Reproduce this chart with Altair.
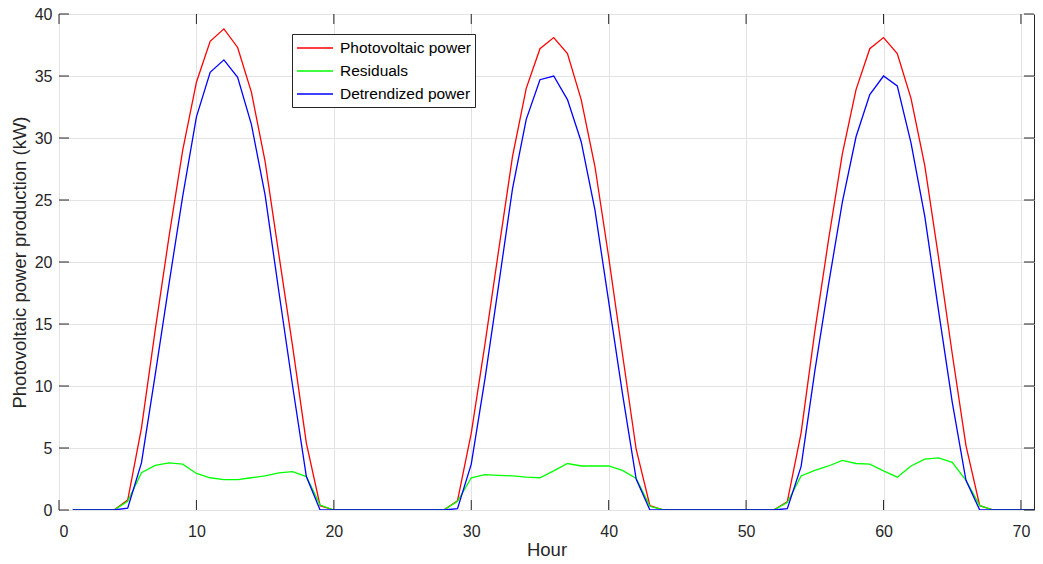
import altair as alt
import pandas as pd

hours = list(range(1, 73))

pv_power = [
    0, 0, 0, 0, 0.8, 6.6, 14.5, 22.0, 29.0, 34.5, 37.8, 38.8, 37.3, 33.7, 28.1, 20.6, 13.2, 5.4, 0.35, 0,
    0, 0, 0, 0, 0, 0, 0, 0, 0.75, 6.2, 13.4, 21.0, 28.5, 34.0, 37.2, 38.1, 36.8, 33.1, 27.7, 20.4,
    12.6, 4.9, 0.35, 0, 0, 0, 0, 0, 0, 0, 0, 0, 0.67, 6.2, 14.4, 21.8, 28.7, 33.9, 37.2, 38.1,
    36.8, 33.2, 27.8, 20.4, 12.6, 5.2, 0.35, 0, 0, 0, 0, 0,
]

residuals = [
    0, 0, 0, 0, 0.7, 3.0, 3.6, 3.8, 3.7, 2.95, 2.6, 2.45, 2.45, 2.6, 2.75, 3.0, 3.1, 2.7, 0.4, 0,
    0, 0, 0, 0, 0, 0, 0, 0, 0.7, 2.6, 2.85, 2.8, 2.75, 2.65, 2.6, 3.15, 3.75, 3.55, 3.55, 3.55,
    3.2, 2.55, 0.3, 0, 0, 0, 0, 0, 0, 0, 0, 0, 0.6, 2.75, 3.2, 3.55, 4.0, 3.75, 3.7, 3.15,
    2.65, 3.55, 4.1, 4.2, 3.85, 2.4, 0.35, 0, 0, 0, 0, 0,
]

detrended = [
    0, 0, 0, 0, 0.15, 3.8, 10.9, 18.2, 25.3, 31.7, 35.3, 36.3, 34.9, 31.1, 25.4, 17.6, 10.0, 2.7, 0, 0,
    0, 0, 0, 0, 0, 0, 0, 0, 0.1, 3.7, 10.6, 18.2, 25.9, 31.5, 34.7, 35.0, 33.1, 29.7, 24.2, 16.8,
    9.4, 2.5, 0, 0, 0, 0, 0, 0, 0, 0, 0, 0, 0.1, 3.5, 11.2, 18.2, 24.8, 30.1, 33.5, 35.0,
    34.2, 29.6, 23.7, 16.1, 8.7, 2.4, 0, 0, 0, 0, 0, 0,
]

series_names = ["Photovoltaic power", "Residuals", "Detrendized power"]
series_colors = ["#ff0000", "#00ff00", "#0000ff"]
x_ticks = [0, 10, 20, 30, 40, 50, 60, 70]
y_ticks = [0, 5, 10, 15, 20, 25, 30, 35, 40]

W, H = 975, 496
X_MAX = 70.95
FONT = "Liberation Sans"
AXIS_COLOR = "#262626"

rows = []
for name, vals in zip(series_names, [pv_power, residuals, detrended]):
    for h, v in zip(hours, vals):
        rows.append({"Hour": h, "kW": v, "series": name})
df = pd.DataFrame(rows)

x_scale = alt.Scale(domain=[0, X_MAX], nice=False, zero=False)
y_scale = alt.Scale(domain=[0, 40], nice=False)

x_enc = alt.X(
    "Hour:Q", scale=x_scale,
    axis=alt.Axis(values=x_ticks, title="Hour", grid=True, ticks=False, domain=False,
                  labelPadding=13, format="d",
                  titleBaseline="alphabetic", titleY=45, titleX=W / 2),
)
y_enc = alt.Y(
    "kW:Q", scale=y_scale,
    axis=alt.Axis(values=y_ticks, title="Photovoltaic power production (kW)", grid=True,
                  ticks=False, domain=False, labelPadding=7, format="d",
                  titleBaseline="alphabetic", titleX=-34, titleY=H / 2, titleAngle=270),
)
color_enc = alt.Color(
    "series:N",
    scale=alt.Scale(domain=series_names, range=series_colors),
    legend=alt.Legend(
        title=None, orient="none", legendX=233, legendY=20,
        symbolType="M-1,0L3,0", symbolSize=324, symbolStrokeWidth=1.3,
        symbolFillColor="transparent",
        labelFont=FONT, labelFontSize=15.5, labelColor="#000000", labelOffset=24,
        fillColor="white", strokeColor=AXIS_COLOR, padding=4, rowPadding=4,
        cornerRadius=0,
    ),
)

layers = []
for name in series_names:
    layers.append(
        alt.Chart(df).transform_filter(alt.datum.series == name)
        .mark_line(strokeWidth=1.3, clip=True)
        .encode(x=x_enc, y=y_enc, color=color_enc)
    )

xt = pd.DataFrame({"Hour": x_ticks})
yt = pd.DataFrame({"kW": y_ticks})
tick_style = dict(color=AXIS_COLOR, strokeWidth=1)
bottom_ticks = alt.Chart(xt).mark_rule(**tick_style).encode(
    x=alt.X("Hour:Q", scale=x_scale), y=alt.value(H), y2=alt.value(H - 10))
top_ticks = alt.Chart(xt).mark_rule(**tick_style).encode(
    x=alt.X("Hour:Q", scale=x_scale), y=alt.value(0), y2=alt.value(10))
left_ticks = alt.Chart(yt).mark_rule(**tick_style).encode(
    y=alt.Y("kW:Q", scale=y_scale), x=alt.value(0), x2=alt.value(10))
right_ticks = alt.Chart(yt).mark_rule(**tick_style).encode(
    y=alt.Y("kW:Q", scale=y_scale), x=alt.value(W), x2=alt.value(W - 10))

chart = (
    alt.layer(*layers, bottom_ticks, top_ticks, left_ticks, right_ticks)
    .properties(
        width=W, height=H,
        autosize=alt.AutoSizeParams(type="none"),
        padding={"left": 51, "top": 6, "right": 1, "bottom": 46},
        background="white",
    )
    .configure_view(stroke=AXIS_COLOR, strokeWidth=1)
    .configure_axis(
        gridColor="#e3e3e3", gridWidth=1,
        labelFont=FONT, labelFontSize=16, labelColor=AXIS_COLOR,
        titleFont=FONT, titleFontSize=18.5, titleFontWeight="normal", titleColor=AXIS_COLOR,
    )
)

chart.save("out.html", embed_options={"renderer": "svg", "actions": False})
